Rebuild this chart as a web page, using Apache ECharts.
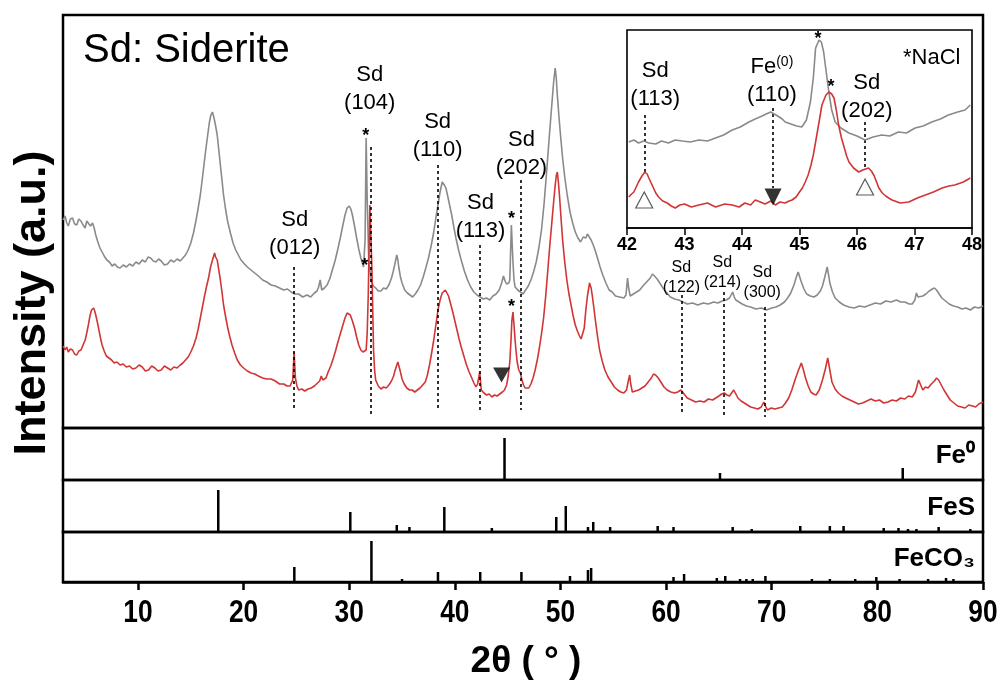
<!DOCTYPE html>
<html><head><meta charset="utf-8">
<script src="https://cdn.jsdelivr.net/npm/echarts@6/dist/echarts.min.js"></script>
<style>html,body{margin:0;padding:0;background:#fff}#c{width:1007px;height:683px}</style>
</head><body><div id="c"></div>
<script>
// ---------- data ----------
const grayMain = [[2.9,208],[3.1,212],[3.25,205],[3.4,202],[3.6,209],[3.8,210],[4.0,204],[4.2,203],[4.4,209],[4.6,207],[4.8,203],[5.0,200],[5.15,207],[5.3,206],[5.5,202],[5.7,205],[5.85,200],[6.0,193],[6.2,186],[6.4,180],[6.6,176],[6.8,172],[7.05,168],[7.3,166],[7.55,162],[7.8,164],[8.05,161],[8.3,160],[8.6,163],[8.9,161],[9.2,164],[9.5,162],[9.8,166],[10.1,164],[10.4,168],[10.7,166],[10.95,171],[11.2,170],[11.45,167],[11.7,166],[11.95,169],[12.2,167],[12.5,163],[12.8,164],[13.1,168],[13.4,166],[13.7,169],[14.0,167],[14.25,170],[14.5,173],[14.75,178],[15.0,185],[15.25,195],[15.5,208],[15.7,220],[15.9,233],[16.1,250],[16.3,268],[16.45,281],[16.6,293],[16.75,305],[16.9,313],[17.05,316],[17.2,310],[17.35,302],[17.5,293],[17.65,278],[17.8,263],[17.95,248],[18.1,233],[18.3,218],[18.5,206],[18.75,195],[19.0,185],[19.25,178],[19.5,173],[19.75,168],[20.0,165],[20.35,161],[20.7,158],[21.05,155],[21.4,152],[21.8,148],[22.2,146],[22.6,143],[23.0,142],[23.4,140],[23.8,138],[24.15,139],[24.5,136],[24.85,134],[25.2,134],[25.6,131],[26.0,133],[26.35,131],[26.7,135],[26.95,137],[27.1,141],[27.25,148],[27.4,138],[27.65,140],[27.9,143],[28.15,149],[28.4,158],[28.65,167],[28.9,178],[29.15,190],[29.4,203],[29.6,213],[29.8,220],[30.0,222],[30.15,219],[30.3,213],[30.5,202],[30.7,190],[30.9,179],[31.1,170],[31.35,161],[31.5,188],[31.6,290],[31.7,228],[31.85,166],[32.1,146],[32.3,142],[32.5,140],[32.75,137],[33.0,137],[33.25,140],[33.5,139],[33.75,143],[34.0,150],[34.15,156],[34.3,163],[34.5,173],[34.6,168],[34.7,160],[34.85,151],[35.0,145],[35.25,138],[35.5,135],[35.75,133],[36.0,131],[36.25,134],[36.5,138],[36.75,143],[37.0,151],[37.25,160],[37.5,170],[37.75,182],[38.0,196],[38.2,210],[38.4,223],[38.6,236],[38.8,246],[39.0,243],[39.15,240],[39.3,233],[39.5,223],[39.7,213],[39.9,201],[40.1,190],[40.35,178],[40.6,168],[40.9,157],[41.2,148],[41.5,141],[41.8,136],[42.1,133],[42.4,131],[42.7,129],[43.0,130],[43.3,128],[43.6,132],[43.9,134],[44.2,138],[44.4,144],[44.6,152],[44.75,147],[44.9,144],[45.1,145],[45.2,148],[45.35,203],[45.5,166],[45.6,148],[45.7,141],[45.95,138],[46.2,136],[46.45,134],[46.7,138],[46.95,142],[47.2,148],[47.45,156],[47.7,166],[47.95,180],[48.2,198],[48.45,225],[48.7,258],[48.9,286],[49.1,313],[49.35,346],[49.5,360],[49.6,350],[49.7,333],[49.85,312],[50.0,293],[50.2,270],[50.4,251],[50.65,232],[50.9,216],[51.15,205],[51.4,196],[51.65,190],[51.9,186],[52.15,191],[52.4,190],[52.55,194],[52.7,192],[52.9,188],[53.1,183],[53.3,177],[53.5,170],[53.75,161],[54.0,153],[54.3,145],[54.6,138],[54.9,136],[55.2,132],[55.6,131],[56.0,130],[56.2,133],[56.35,150],[56.45,140],[56.6,132],[56.9,134],[57.2,136],[57.5,138],[57.8,142],[58.15,146],[58.5,150],[58.7,154],[58.9,152],[59.15,149],[59.4,145],[59.7,140],[60.0,136],[60.4,131],[60.8,129],[61.2,128],[61.6,126],[62.0,124],[62.5,125],[63.0,123],[63.5,125],[64.0,124],[64.5,126],[64.9,125],[65.3,127],[65.7,128],[66.0,130],[66.3,136],[66.45,131],[66.6,128],[66.9,126],[67.2,124],[67.6,122],[68.0,121],[68.5,119],[69.0,120],[69.5,118],[70.0,120],[70.4,121],[70.8,123],[71.2,126],[71.5,130],[71.8,135],[72.1,143],[72.3,150],[72.5,156],[72.65,151],[72.8,146],[73.05,139],[73.3,134],[73.65,132],[74.0,131],[74.3,133],[74.6,137],[74.8,142],[75.0,150],[75.25,161],[75.4,152],[75.5,145],[75.75,136],[76.0,130],[76.4,126],[76.8,123],[77.3,121],[77.8,120],[78.3,122],[78.8,121],[79.3,123],[79.8,125],[80.3,124],[80.8,127],[81.3,126],[81.8,128],[82.2,126],[82.6,126],[83.0,124],[83.3,124],[83.55,128],[83.7,135],[83.85,131],[84.0,130],[84.3,132],[84.6,134],[84.9,137],[85.2,139],[85.4,140],[85.6,138],[85.85,134],[86.1,130],[86.45,127],[86.8,124],[87.2,122],[87.6,121],[88.0,119],[88.4,120],[88.8,118],[89.2,121],[89.6,120],[90.0,122]];
const redMain = [[2.9,82],[3.1,78],[3.25,81],[3.4,76],[3.6,79],[3.8,78],[4.0,74],[4.2,73],[4.4,77],[4.6,78],[4.8,83],[5.0,88],[5.15,95],[5.3,103],[5.45,112],[5.6,118],[5.8,120],[5.9,117],[6.0,113],[6.15,106],[6.3,98],[6.45,90],[6.6,83],[6.8,77],[7.0,72],[7.25,70],[7.5,68],[7.75,65],[8.0,66],[8.3,63],[8.6,64],[8.9,61],[9.2,62],[9.5,59],[9.8,60],[10.1,63],[10.4,61],[10.7,57],[11.0,58],[11.3,62],[11.6,60],[11.9,57],[12.2,58],[12.5,62],[12.8,60],[13.1,58],[13.4,61],[13.7,60],[14.0,63],[14.25,65],[14.5,68],[14.75,71],[15.0,76],[15.25,82],[15.5,90],[15.7,99],[15.9,110],[16.1,121],[16.3,132],[16.5,142],[16.7,151],[16.85,160],[17.0,166],[17.25,175],[17.35,171],[17.5,168],[17.65,158],[17.8,148],[17.95,136],[18.1,123],[18.3,111],[18.5,100],[18.7,91],[18.9,83],[19.15,75],[19.4,68],[19.7,63],[20.0,60],[20.35,57],[20.7,55],[21.05,54],[21.4,52],[21.8,50],[22.2,49],[22.6,49],[23.0,47],[23.4,44],[23.8,44],[24.1,42],[24.4,42],[24.65,48],[24.78,76],[24.9,50],[25.05,42],[25.2,38],[25.5,39],[25.8,37],[26.1,39],[26.4,40],[26.7,42],[27.0,45],[27.2,47],[27.35,52],[27.5,48],[27.6,46],[27.8,50],[28.0,56],[28.25,62],[28.5,70],[28.7,77],[28.9,85],[29.15,94],[29.4,103],[29.6,110],[29.8,115],[29.95,114],[30.1,113],[30.3,107],[30.5,100],[30.7,91],[30.9,83],[31.1,78],[31.3,76],[31.45,75],[31.6,78],[31.7,95],[31.8,133],[31.95,223],[32.05,225],[32.15,158],[32.3,78],[32.4,58],[32.5,48],[32.75,42],[33.0,39],[33.25,41],[33.5,40],[33.75,43],[34.0,47],[34.2,52],[34.35,58],[34.6,66],[34.75,60],[34.85,56],[35.0,49],[35.2,44],[35.45,40],[35.7,38],[35.95,38],[36.2,36],[36.45,38],[36.7,40],[36.95,43],[37.2,46],[37.4,53],[37.6,63],[37.8,75],[38.0,88],[38.2,103],[38.4,118],[38.6,128],[38.8,135],[38.95,137],[39.1,138],[39.25,135],[39.4,132],[39.6,124],[39.8,116],[40.0,107],[40.2,98],[40.4,89],[40.6,81],[40.85,72],[41.1,63],[41.35,56],[41.6,50],[41.8,45],[42.0,41],[42.15,44],[42.25,50],[42.35,56],[42.45,44],[42.5,38],[42.75,35],[43.0,33],[43.25,34],[43.5,31],[43.75,33],[44.0,32],[44.25,34],[44.5,36],[44.7,38],[44.9,43],[45.05,52],[45.2,66],[45.3,85],[45.4,108],[45.5,116],[45.6,103],[45.7,88],[45.8,76],[45.9,66],[46.05,58],[46.2,55],[46.35,48],[46.5,43],[46.65,40],[46.8,38],[47.0,40],[47.2,44],[47.4,50],[47.6,58],[47.8,68],[48.0,80],[48.2,94],[48.4,110],[48.6,132],[48.8,158],[49.0,184],[49.2,208],[49.35,226],[49.5,243],[49.6,252],[49.7,256],[49.8,246],[49.9,233],[50.05,210],[50.2,188],[50.4,166],[50.6,148],[50.8,134],[51.0,123],[51.2,112],[51.4,103],[51.6,97],[51.8,92],[51.95,89],[52.1,88],[52.25,100],[52.4,118],[52.55,132],[52.75,145],[52.9,140],[53.0,133],[53.15,121],[53.3,108],[53.5,92],[53.7,78],[53.95,67],[54.2,58],[54.5,51],[54.8,46],[55.1,41],[55.4,38],[55.7,36],[56.0,35],[56.25,38],[56.4,46],[56.55,53],[56.65,44],[56.8,36],[57.1,37],[57.4,38],[57.7,40],[58.0,42],[58.3,46],[58.6,50],[58.8,54],[59.0,53],[59.25,50],[59.5,46],[59.8,41],[60.1,38],[60.45,36],[60.8,35],[61.1,36],[61.4,38],[61.7,34],[62.0,30],[62.4,28],[62.8,26],[63.2,27],[63.6,26],[64.0,29],[64.4,28],[64.7,30],[65.0,32],[65.25,34],[65.5,35],[65.75,33],[66.0,32],[66.2,35],[66.4,38],[66.6,34],[66.8,30],[67.1,27],[67.4,25],[67.7,23],[68.0,21],[68.35,20],[68.7,19],[69.0,21],[69.25,26],[69.4,22],[69.6,18],[69.95,20],[70.3,19],[70.65,20],[71.0,21],[71.3,25],[71.6,30],[71.9,38],[72.2,48],[72.5,57],[72.8,65],[72.95,60],[73.2,50],[73.45,42],[73.7,36],[73.95,34],[74.2,33],[74.5,38],[74.8,48],[75.05,58],[75.3,70],[75.5,58],[75.7,46],[76.0,39],[76.3,35],[76.65,32],[77.0,30],[77.4,28],[77.8,26],[78.2,24],[78.6,25],[79.0,27],[79.4,29],[79.8,27],[80.2,28],[80.6,25],[81.0,26],[81.4,28],[81.8,27],[82.2,30],[82.6,29],[82.95,32],[83.3,31],[83.6,36],[83.9,48],[84.1,43],[84.3,38],[84.55,41],[84.8,40],[85.1,44],[85.4,47],[85.6,50],[85.8,48],[86.05,43],[86.3,38],[86.6,33],[86.9,28],[87.25,25],[87.6,22],[87.95,21],[88.3,20],[88.65,23],[89.0,22],[89.3,21],[89.6,24],[90.0,26]];
const grayInset = [[42.03,86],[42.12,88],[42.2,85],[42.29,87],[42.38,85],[42.5,84],[42.6,87],[42.72,85],[42.84,88],[42.96,87],[43.1,86],[43.25,88],[43.4,87],[43.54,90],[43.68,93],[43.83,98],[43.97,101],[44.12,106],[44.23,109],[44.35,112],[44.42,114],[44.5,116],[44.56,114],[44.62,112],[44.7,109],[44.75,106],[44.85,104],[44.95,102],[45.04,101],[45.12,108],[45.19,126],[45.24,150],[45.28,180],[45.34,188],[45.38,186],[45.42,176],[45.46,158],[45.51,136],[45.56,118],[45.62,106],[45.72,100],[45.86,95],[46.0,92],[46.14,88],[46.28,91],[46.43,93],[46.57,92],[46.72,96],[46.86,95],[47.01,100],[47.15,102],[47.3,106],[47.45,109],[47.59,113],[47.75,116],[47.88,118],[47.97,123]];
const redInset = [[42.03,31],[42.08,34],[42.12,36],[42.16,41],[42.2,46],[42.26,52],[42.31,56],[42.35,54],[42.38,50],[42.42,45],[42.46,40],[42.5,35],[42.55,31],[42.62,27],[42.7,25],[42.77,22],[42.84,20],[42.92,23],[43.0,24],[43.12,21],[43.25,23],[43.4,25],[43.54,21],[43.7,24],[43.83,23],[43.95,21],[44.05,25],[44.15,23],[44.23,28],[44.32,26],[44.4,24],[44.5,27],[44.58,23],[44.66,26],[44.75,25],[44.82,27],[44.87,28],[44.94,31],[45.0,36],[45.05,40],[45.1,46],[45.15,53],[45.2,63],[45.24,73],[45.28,86],[45.34,106],[45.39,123],[45.46,133],[45.51,136],[45.56,134],[45.6,130],[45.64,118],[45.68,103],[45.73,90],[45.78,80],[45.82,72],[45.86,66],[45.94,60],[46.03,56],[46.1,58],[46.2,60],[46.25,57],[46.3,52],[46.34,46],[46.38,40],[46.44,35],[46.5,32],[46.55,30],[46.61,28],[46.75,25],[46.9,26],[47.05,30],[47.19,33],[47.33,36],[47.48,40],[47.6,42],[47.7,43],[47.85,46],[47.97,50]];
const fe0Sticks = [[44.7,42],[65.1,7],[82.4,12]];
const fesSticks = [[17.6,42],[30.1,20],[34.5,7],[35.7,5],[39.0,25],[43.5,4],[49.6,15],[50.5,26],[52.6,5],[53.1,10],[54.7,5],[59.2,6],[60.7,5],[66.3,5],[68.1,3],[72.7,6],[75.5,6],[76.8,6],[80.6,4],[82.0,4],[82.9,3],[83.7,3],[85.8,5],[88.8,3]];
const feco3Sticks = [[24.8,15],[32.1,41],[35.0,3],[38.4,10],[42.4,10],[46.3,10],[50.9,6],[52.6,12],[52.9,14],[60.7,5],[61.7,8],[64.8,4],[65.6,6],[67.0,3],[67.6,3],[68.2,3],[69.4,6],[73.8,3],[75.5,3],[77.9,3],[79.9,5],[82.1,3],[84.8,3],[86.5,4],[87.2,3]];
const xTicks = [10,20,30,40,50,60,70,80,90];
const mainHkl = ['(012)','(104)','(110)','(113)','(202)','(122)','(214)','(300)'];
const mainHklPos = [24.75,32.03,38.37,42.34,46.22,61.44,65.41,69.38];
const naclMain = [[31.56,296],[31.46,166],[45.36,213],[45.36,125]];
const fe0Marker = [[44.42,53]];
const insetHkl = ['(113)','(202)'];
const insetHklPos = [42.30,46.14];
const insetFePos = 44.54;
const naclInset = [[45.32,193],[45.55,145]];
const refNames = ['Fe⁰','FeS','FeCO₃'];

// ---------- layout ----------
const F = '"Liberation Sans", Arial, Helvetica, sans-serif';
const mainLayout = [
 {lx:24.84, ly:194, y1:161, y2:18, fs:22, lh:28},
 {lx:31.94, ly:339, y1:281, y2:11, fs:22, lh:28},
 {lx:38.37, ly:292, y1:263, y2:20, fs:22, lh:28},
 {lx:42.43, ly:211, y1:183, y2:16, fs:22, lh:28},
 {lx:46.31, ly:274, y1:248, y2:18, fs:22, lh:28},
 {lx:61.44, ly:150, y1:133, y2:15, fs:16, lh:20},
 {lx:65.32, ly:155, y1:136, y2:10, fs:16, lh:20},
 {lx:69.10, ly:145, y1:121, y2:11, fs:16, lh:20}
];
const insetLayout = [
 {lx:42.49, ly:143, y1:113, y2:56, tri:28},
 {lx:46.17, ly:131, y1:106, y2:60, tri:41}
];
const X0 = 2.9, X1 = 90;
const L = 63, W = 920;
const grids = [
 {left:L, top:15, width:W, height:413},
 {left:L, top:428, width:W, height:52},
 {left:L, top:480, width:W, height:52},
 {left:L, top:532, width:W, height:50},
 {left:627, top:30, width:345, height:198}
];
const border = {show:true, borderColor:'#000', borderWidth:2.5, backgroundColor:'transparent'};

function hiddenX(i){return {gridIndex:i, type:'value', min:X0, max:X1, axisLine:{show:false}, axisTick:{show:false}, axisLabel:{show:false}, splitLine:{show:false}};}
function hiddenY(i,max){return {gridIndex:i, type:'value', min:0, max:max, axisLine:{show:false}, axisTick:{show:false}, axisLabel:{show:false}, splitLine:{show:false}};}

const xAxes = [hiddenX(0), hiddenX(1), hiddenX(2),
 {gridIndex:3, type:'value', min:X0, max:X1,
  axisLine:{show:true, lineStyle:{color:'#000', width:2.5}},
  axisTick:{show:true, customValues:xTicks, length:8, lineStyle:{color:'#000', width:2.5}},
  axisLabel:{show:false},
  splitLine:{show:false}},
 {gridIndex:4, type:'value', min:42, max:48, interval:1,
  axisLine:{show:true, lineStyle:{color:'#000', width:1.5}},
  axisTick:{show:true, length:7, lineStyle:{color:'#000', width:1.5}},
  axisLabel:{show:true, margin:8, color:'#000', fontSize:18, fontWeight:'bold', fontFamily:F},
  splitLine:{show:false}}
];
const yAxes = [hiddenY(0,413), hiddenY(1,52), hiddenY(2,52), hiddenY(3,50), hiddenY(4,198)];

function sticks(idx, data){
 return {type:'custom', xAxisIndex:idx, yAxisIndex:idx, data:data, silent:true,
  renderItem:function(params, api){
   const p0 = api.coord([api.value(0),0]);
   const p1 = api.coord([api.value(0),api.value(1)]);
   return {type:'line', shape:{x1:p0[0],y1:p0[1],x2:p1[0],y2:p1[1]}, style:{stroke:'#000', lineWidth:2.5}};
  }};
}
const dash = {color:'#000', width:1.6, type:[3,3]};
const GRAY = '#8a8a8a', RED = '#d13535';

const series = [
 {type:'line', xAxisIndex:0, yAxisIndex:0, data:grayMain, showSymbol:false, symbol:'none', lineStyle:{color:GRAY, width:1.6}, z:2},
 {type:'line', xAxisIndex:0, yAxisIndex:0, data:redMain, showSymbol:false, symbol:'none', lineStyle:{color:RED, width:1.6}, z:2,
  markLine:{silent:true, symbol:['none','none'], label:{show:false}, lineStyle:dash,
   data: mainHklPos.map((p,i)=>[{coord:[p, mainLayout[i].y1]},{coord:[p, mainLayout[i].y2]}])}},
 {type:'scatter', xAxisIndex:0, yAxisIndex:0, symbol:'triangle', symbolRotate:180, symbolSize:[17,15], itemStyle:{color:'#000'}, silent:true, z:5, data:fe0Marker},
 sticks(1, fe0Sticks), sticks(2, fesSticks), sticks(3, feco3Sticks),
 {type:'line', xAxisIndex:4, yAxisIndex:4, data:grayInset, showSymbol:false, symbol:'none', lineStyle:{color:GRAY, width:1.6}, z:6},
 {type:'line', xAxisIndex:4, yAxisIndex:4, data:redInset, showSymbol:false, symbol:'none', lineStyle:{color:RED, width:1.6}, z:6,
  markLine:{silent:true, symbol:['none','none'], label:{show:false}, lineStyle:dash,
   data: insetHklPos.map((p,i)=>[{coord:[p, insetLayout[i].y1]},{coord:[p, insetLayout[i].y2]}]).concat([[{coord:[insetFePos,120]},{coord:[insetFePos,40]}]])}},
 {type:'scatter', xAxisIndex:4, yAxisIndex:4, symbol:'triangle', symbolSize:[17,16], itemStyle:{color:'#fff', borderColor:'#333', borderWidth:1.2}, silent:true, z:7,
  data: insetHklPos.map((p,i)=>[p, insetLayout[i].tri])},
 {type:'scatter', xAxisIndex:4, yAxisIndex:4, symbol:'triangle', symbolRotate:180, symbolSize:[17,17], itemStyle:{color:'#000'}, silent:true, z:7,
  data: [[insetFePos,31]]}
];

const chart = echarts.init(document.getElementById('c'), null, {renderer:'canvas'});
chart.setOption({
 animation:false,
 backgroundColor:'#fff',
 title:{text:'Sd: Siderite', left:78, top:26, textStyle:{fontSize:40, fontWeight:'normal', color:'#000', fontFamily:F}},
 grid: grids.map((g,i)=>Object.assign({}, g, border, i===4?{borderWidth:1.6, backgroundColor:'#fff'}:{})),
 xAxis:xAxes, yAxis:yAxes, series:series
});

// text annotations positioned through the chart's own scales
function px(gi, v){ return chart.convertToPixel({xAxisIndex:gi, yAxisIndex:gi}, v); }
function txt(p, text, size, lh, bold, extra){
 return Object.assign({type:'text', x:p[0], y:p[1], z:20, silent:true,
  style:{text:text, fill:'#000', fontSize:size, fontWeight:bold?'bold':'normal', fontFamily:F, lineHeight:lh, align:'center', verticalAlign:'middle'}}, extra||{});
}
const g = [];
mainHkl.forEach((h,i)=>{ const m = mainLayout[i]; g.push(txt(px(0,[m.lx,m.ly]), 'Sd\n'+h, m.fs, m.lh)); });
naclMain.forEach(v=>{ const p = px(0,v); g.push(txt([p[0],p[1]+4], '*', 18, 18, true)); });
insetHkl.forEach((h,i)=>{ const m = insetLayout[i]; g.push(txt(px(4,[m.lx,m.ly]), 'Sd\n'+h, 22, 28)); });
naclInset.forEach(v=>{ const p = px(4,v); g.push(txt([p[0],p[1]+4], '*', 18, 18, true)); });
{ const p = px(4,[44.52,147]);
  g.push({type:'text', x:p[0], y:p[1], z:20, silent:true,
   style:{text:'{a|Fe}{s|(0)}\n{a|(110)}', fill:'#000', align:'center', verticalAlign:'middle', fontFamily:F,
    rich:{a:{fontSize:22, fontFamily:F, lineHeight:28, fill:'#000'}, s:{fontSize:14, fontFamily:F, lineHeight:28, fill:'#000', padding:[0,0,10,0]}}}}); }
g.push(txt(px(4,[47.3,170]), '*NaCl', 22, 26));
// bottom axis tick labels (condensed bold, at the axis' own tick positions)
xTicks.forEach(v=>{ const p = px(3,[v,0]);
  g.push({type:'text', x:p[0], y:613, scaleX:0.85, z:20, silent:true,
   style:{text:String(v), fill:'#000', font:'bold 31px '+F, align:'center', verticalAlign:'middle'}}); });
g.push({type:'text', x:526, y:662, z:20, silent:true,
  style:{text:'2θ ( ° )', fill:'#000', font:'bold 37px '+F, align:'center', verticalAlign:'middle'}});
g.push({type:'text', x:33, y:303, rotation:Math.PI/2, z:20, silent:true,
  style:{text:'Intensity (a.u.)', fill:'#000', font:'bold 45px '+F, align:'center', verticalAlign:'middle'}});
g.push({type:'text', right:32, top:443, z:20, style:{text:refNames[0], fill:'#000', font:'bold 26px '+F}});
g.push({type:'text', right:32, top:495, z:20, style:{text:refNames[1], fill:'#000', font:'bold 26px '+F}});
g.push({type:'text', right:32, top:546, z:20, style:{text:refNames[2], fill:'#000', font:'bold 26px '+F}});
chart.setOption({graphic:g});
</script></body></html>
